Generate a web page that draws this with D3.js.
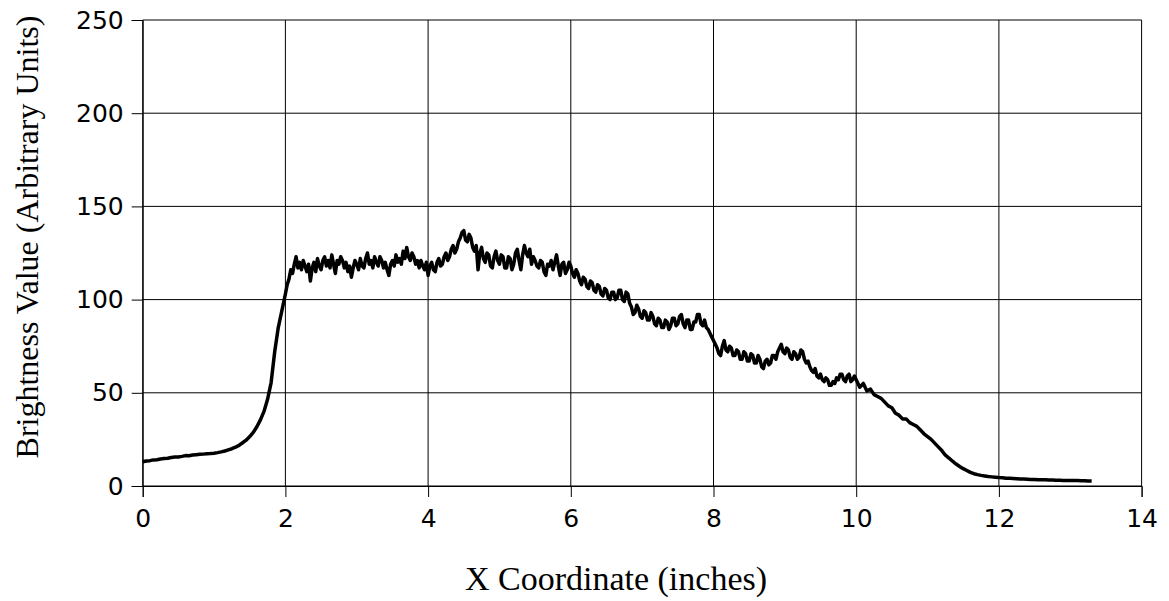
<!DOCTYPE html>
<html>
<head>
<meta charset="utf-8">
<script src="https://cdnjs.cloudflare.com/ajax/libs/d3/7.8.5/d3.min.js"></script>
<style>
  body { margin: 0; background: #fff; }
  svg { display: block; }
</style>
</head>
<body>
<svg id="chart" width="1169" height="601"></svg>
<script>
// trace in three stretches; each has a start x and a sample step (inches)
const rampStart = 0, rampStep = 0.05;
const rampValues = [
    13.0, 13.4, 13.6, 14.0, 14.1, 14.5, 14.7, 14.9, 15.3, 15.5, 15.6, 15.9, 16.3, 16.2, 16.6, 16.8, 17.0, 17.1, 17.3, 17.4,
    17.6, 17.9, 18.3, 18.8, 19.4, 20.0, 20.8, 21.8, 23.2, 24.6, 26.5, 28.8, 31.8, 35.5, 40.0, 46.5, 55.5, 72.0, 85.0, 94.0
];

const plateauStart = 2.0, plateauStep = 0.025;
const plateauValues = [
    103, 108, 111, 116, 114, 119, 123, 117, 120, 116, 121, 118, 115, 119, 110, 117, 120, 115, 122, 118,
    116, 121, 123, 118, 121, 117, 124, 119, 114, 121, 119, 123, 121, 117, 120, 115, 118, 112, 117, 121,
    119, 116, 122, 118, 117, 122, 125, 119, 121, 117, 123, 120, 118, 123, 121, 117, 120, 116, 113, 119,
    121, 118, 124, 120, 122, 119, 126, 122, 128, 123, 121, 125, 123, 119, 121, 117, 121, 118, 116, 120,
    113, 118, 120, 116, 115, 120, 122, 118, 119, 123, 125, 121, 123, 127, 129, 125, 127, 131, 133, 136,
    137, 132, 131, 135, 133, 128, 126, 129, 116, 125, 128, 122, 120, 125, 124, 118, 117, 123, 126, 121,
    119, 124, 123, 117, 117, 123, 122, 116, 119, 125, 127, 121, 116, 124, 129, 125, 123, 127, 119, 123,
    121, 118, 117, 121, 120, 115, 113, 119, 118, 121, 116, 120, 124, 118, 113, 119, 120, 114, 116, 120,
    118, 114, 112, 116, 114, 110, 108, 112, 111, 107, 106, 110, 109, 105, 104, 108, 107, 103, 102, 106,
    105, 101, 100, 104, 104, 100, 101, 105, 105, 100, 99, 104, 103, 98, 96, 92, 93, 97, 95, 91,
    90, 94, 93, 89, 89, 93, 91, 87, 86, 90, 89, 85, 85, 89, 88, 84, 86, 90, 90, 86,
    87, 91, 92, 87, 85, 89, 89, 84, 84, 88, 88, 92, 92, 87, 86, 89, 85, 84, 82, 80,
    78, 76, 74, 71, 70, 75, 78, 73, 72, 75, 74, 70, 70, 73, 72, 68, 68, 72, 71, 67,
    67, 71, 70, 66, 66, 70, 68, 64, 63, 67, 68, 65, 66, 70, 70, 68, 72, 74, 76, 72,
    71, 74, 73, 69, 68, 72, 71, 68, 69, 73, 72, 68, 66, 67, 64, 62, 61, 63, 59, 58,
    60, 57, 56, 58, 57, 54, 54, 56, 55, 58, 57, 60, 60, 57, 56, 59, 60, 56, 57, 59
];

const tailStart = 10.0, tailStep = 0.05;
const tailValues = [
    57, 53, 55, 51, 52, 49, 48, 47, 45, 43, 42, 39, 38, 36, 36, 34, 33, 32, 30, 28,
    26.5, 25, 23, 21, 19, 16.5, 15, 13.3, 11.8, 10.5, 9.3, 8.3, 7.3, 6.6, 6.1, 5.7, 5.4, 5.1, 4.9, 4.7,
    4.5, 4.4, 4.2, 4.1, 4.0, 3.9, 3.8, 3.7, 3.6, 3.5, 3.5, 3.4, 3.3, 3.3, 3.2, 3.2, 3.1, 3.1, 3.0, 3.0,
    3.0, 2.9, 2.9, 2.8, 2.8, 2.7, 2.7
];

const xTicks = [0, 2, 4, 6, 8, 10, 12, 14];
const yTicks = [0, 50, 100, 150, 200, 250];
const xTitle = "X Coordinate (inches)";
const yTitle = "Brightness Value (Arbitrary Units)";

const svg = d3.select("#chart");
const plotLeft = 142.7, plotRight = 1141.6, plotTop = 20, plotBottom = 486;

const x = d3.scaleLinear().domain([0, 14]).range([plotLeft, plotRight]);
const y = d3.scaleLinear().domain([0, 250]).range([plotBottom, plotTop]);

function stretch(start, step, values) {
    return values.map(function (v, i) {
        return {x: start + i * step, y: v};
    });
}

const data = stretch(rampStart, rampStep, rampValues)
    .concat(stretch(plateauStart, plateauStep, plateauValues))
    .concat(stretch(tailStart, tailStep, tailValues));

// grid
svg.append("g")
    .selectAll("line")
    .data(yTicks)
    .enter().append("line")
    .attr("x1", plotLeft).attr("x2", plotRight)
    .attr("y1", function (d) { return y(d); })
    .attr("y2", function (d) { return y(d); })
    .attr("stroke", "#000")
    .attr("stroke-width", 1);

svg.append("g")
    .selectAll("line")
    .data(xTicks)
    .enter().append("line")
    .attr("y1", plotTop).attr("y2", plotBottom)
    .attr("x1", function (d) { return x(d); })
    .attr("x2", function (d) { return x(d); })
    .attr("stroke", "#000")
    .attr("stroke-width", 1);

// axes
const xAxis = svg.append("g")
    .attr("transform", "translate(0," + plotBottom + ")")
    .call(d3.axisBottom(x).tickValues(xTicks).tickSize(11).tickPadding(12).tickFormat(d3.format("d")));

const yAxis = svg.append("g")
    .attr("transform", "translate(" + plotLeft + ",0)")
    .call(d3.axisLeft(y).tickValues(yTicks).tickSize(11).tickPadding(8).tickFormat(d3.format("d")));

[xAxis, yAxis].forEach(function (g) {
    g.select(".domain").attr("stroke", "#000").attr("stroke-width", 1);
    g.selectAll(".tick line").attr("stroke", "#000");
    g.selectAll(".tick text")
        .attr("fill", "#000")
        .style("font-family", "'DejaVu Sans', Verdana, sans-serif")
        .style("font-size", "25px");
});

// trace
const line = d3.line()
    .x(function (d) { return x(d.x); })
    .y(function (d) { return y(d.y); });

svg.append("path")
    .datum(data)
    .attr("d", line)
    .attr("fill", "none")
    .attr("stroke", "#000")
    .attr("stroke-width", 3.5)
    .attr("stroke-linejoin", "round");

// titles
svg.append("text")
    .attr("x", 616)
    .attr("y", 590)
    .attr("text-anchor", "middle")
    .style("font-family", "'Liberation Serif', Georgia, serif")
    .style("font-size", "34px")
    .text(xTitle);

svg.append("text")
    .attr("transform", "translate(38,237) rotate(-90)")
    .attr("text-anchor", "middle")
    .style("font-family", "'Liberation Serif', Georgia, serif")
    .style("font-size", "32px")
    .text(yTitle);
</script>
</body>
</html>
